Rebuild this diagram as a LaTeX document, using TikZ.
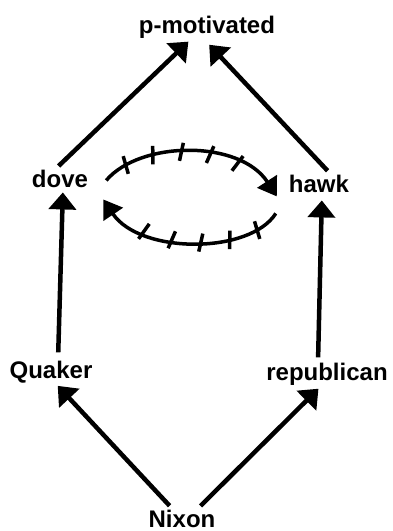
\documentclass[tikz,border=0pt]{standalone}
\usepackage{fontspec}
\setmainfont{Liberation Sans}
\usetikzlibrary{arrows.meta, decorations.markings}

\begin{document}
\begin{tikzpicture}[x=1pt, y=-1pt,
      lbl/.style={font=\fontsize{24}{28}\selectfont\bfseries, inner sep=0pt, anchor=base},
      arr/.style={-{Triangle[width=27pt,length=17pt]}, line width=4.5pt},
      cyc/.style={-{Triangle[width=23pt,length=18pt]}, line width=3.5pt},
      tick/.style={-, line width=3.5pt},
      ticks/.style={postaction={decorate, decoration={markings,
         mark=at position 0.13 with {\draw[tick] (-2pt,-9pt) -- (2pt,9pt);},
         mark=at position 0.28 with {\draw[tick] (-2pt,-9pt) -- (2pt,9pt);},
         mark=at position 0.43 with {\draw[tick] (-2pt,-9pt) -- (2pt,9pt);},
         mark=at position 0.58 with {\draw[tick] (-2pt,-9pt) -- (2pt,9pt);},
         mark=at position 0.73 with {\draw[tick] (-2pt,-9pt) -- (2pt,9pt);}}}}]
      \useasboundingbox (0,0) rectangle (392,531);
      % Labels
      \node[lbl] (pmot) at (207,33) {p-motivated};
      \node[lbl] (dove) at (60,187) {dove};
      \node[lbl] (hawk) at (319,192) {hawk};
      \node[lbl] (quaker) at (51,378) {Quaker};
      \node[lbl] (repub) at (327,380) {republican};
      \node[lbl] (nixon) at (182,527) {Nixon};
      % Nixon is both
      \draw[arr, shorten <=5pt, shorten >=4pt] ([xshift=-9pt]nixon.north) -- ([xshift=4pt]quaker.south);
      \draw[arr, shorten <=5pt, shorten >=5pt] ([xshift=15pt]nixon.north) -- ([xshift=-5pt]repub.south);
      % Quaker -> dove, republican -> hawk
      \draw[arr, shorten <=8pt, shorten >=5pt] ([xshift=7pt]quaker.north) -- ([xshift=3pt]dove.south);
      \draw[arr, shorten <=5pt, shorten >=8pt] ([xshift=-9pt]repub.north) -- ([xshift=3pt]hawk.south);
      % dove, hawk -> p-motivated
      \draw[arr, shorten <=5pt, shorten >=5pt] ([xshift=-5pt]dove.north) -- ([xshift=-15pt]pmot.south);
      \draw[arr, shorten <=5pt, shorten >=9pt] ([xshift=12pt]hawk.north) -- ([xshift=-4pt]pmot.south);
      % dove and hawk exclude each other
      \draw[cyc, ticks] ([xshift=18pt,yshift=-2pt]dove.east)
         .. controls +(34,-40) and +(-37,-57) .. ([xshift=-12pt,yshift=-13pt]hawk.west);
      \draw[cyc, ticks] ([xshift=-13pt,yshift=-30pt]hawk.west)
         .. controls +(-26,41) and +(37,55) .. ([xshift=15pt,yshift=-21pt]dove.east);
   \end{tikzpicture}
\end{document}
